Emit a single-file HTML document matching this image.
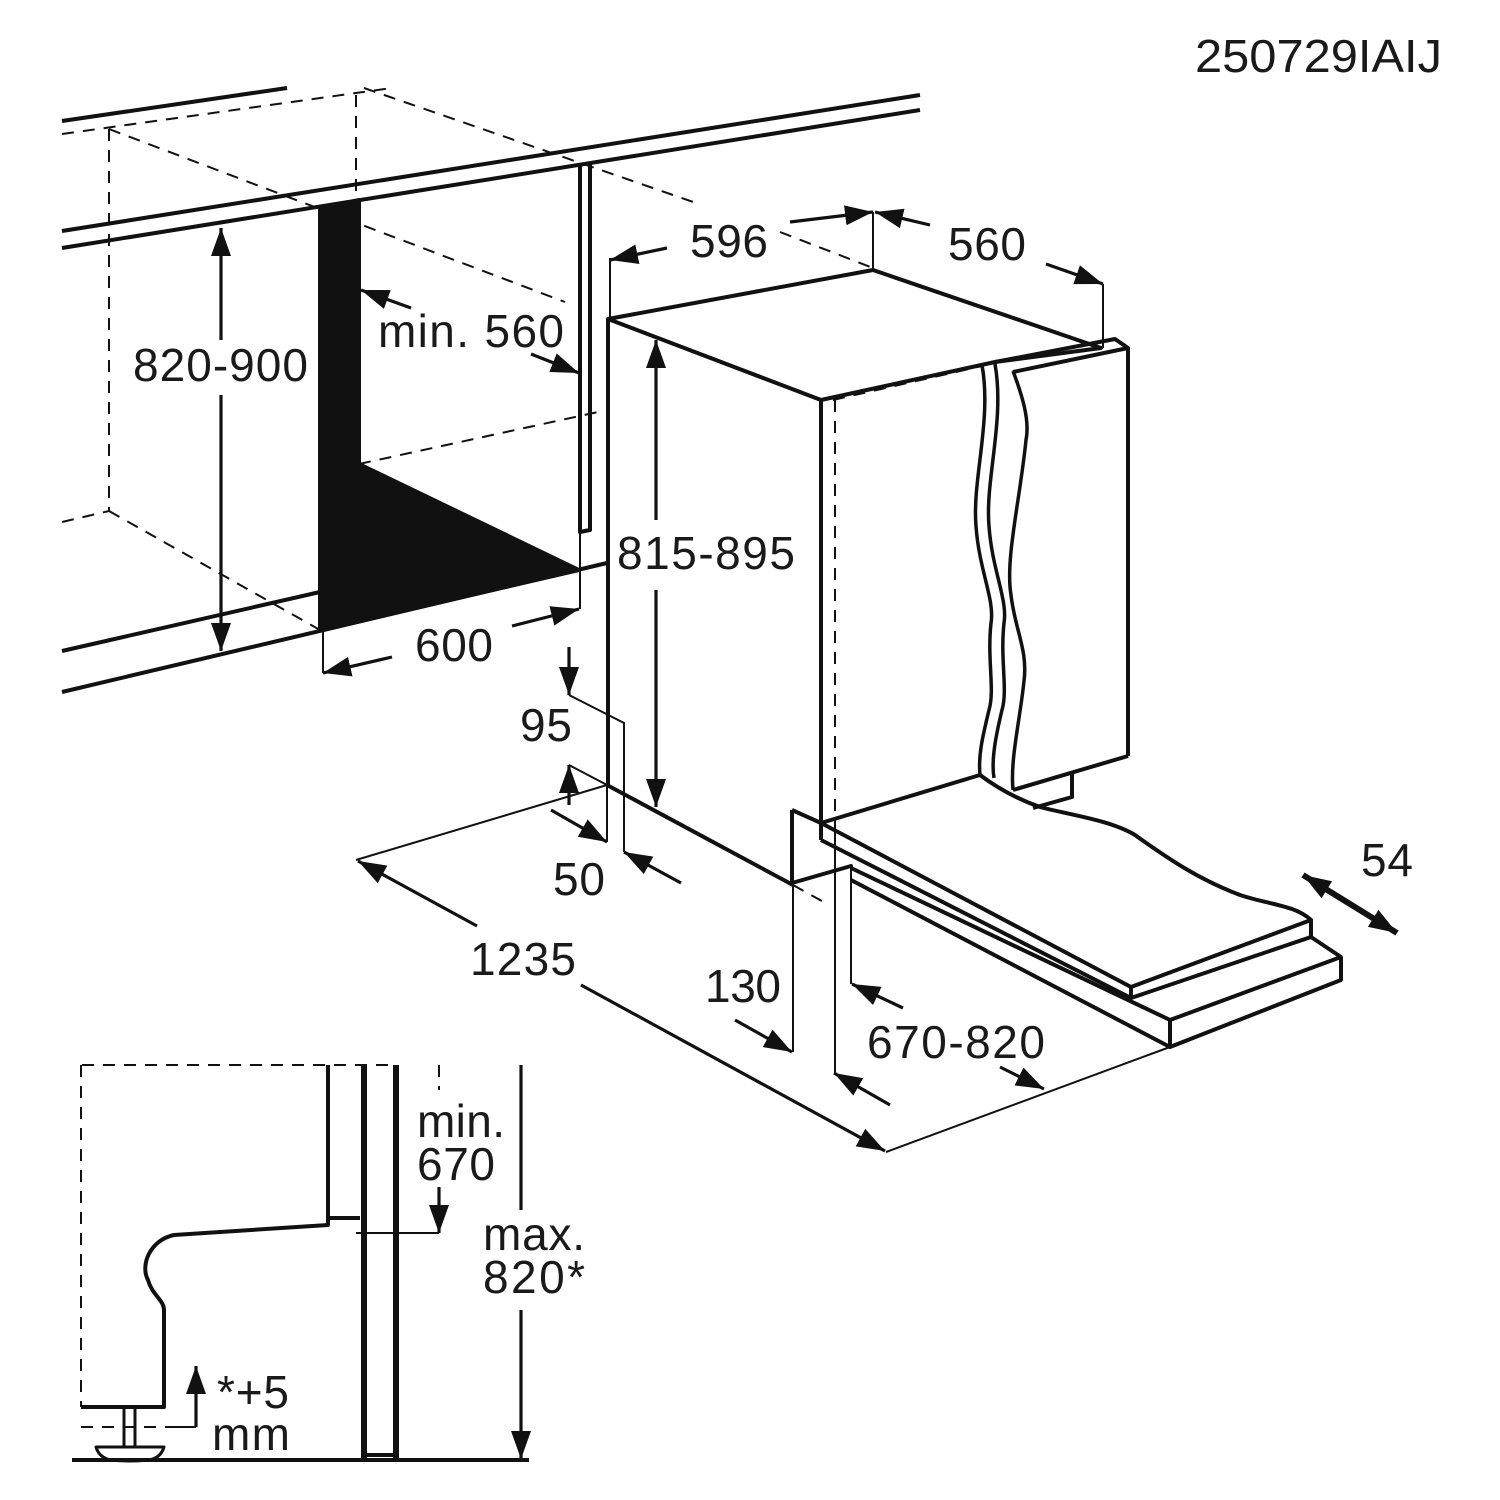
<!DOCTYPE html>
<html><head><meta charset="utf-8"><style>html,body{margin:0;padding:0;background:#fff}svg{display:block}</style></head>
<body>
<svg width="1500" height="1500" viewBox="0 0 1500 1500" xmlns="http://www.w3.org/2000/svg">
<defs>
<marker id="a" markerUnits="userSpaceOnUse" markerWidth="30" markerHeight="20" refX="28" refY="10" orient="auto"><path d="M0,0 L28,10 L0,20 z" fill="#111"/></marker>
<marker id="b" markerUnits="userSpaceOnUse" markerWidth="30" markerHeight="20" refX="0" refY="10" orient="auto"><path d="M28,0 L0,10 L28,20 z" fill="#111"/></marker>
</defs>
<rect width="1500" height="1500" fill="#fff"/>
<g font-family="Liberation Sans, Arial, sans-serif" font-size="46" fill="#1a1a1a">
<text x="1195" y="72" textLength="247" lengthAdjust="spacingAndGlyphs">250729IAIJ</text>
<text x="690" y="257" textLength="78">596</text>
<text x="948" y="260" textLength="78">560</text>
<text x="378" y="347" textLength="186">min. 560</text>
<text x="133" y="381" textLength="175">820-900</text>
<text x="617" y="569" textLength="178">815-895</text>
<text x="415" y="661" textLength="78">600</text>
<text x="520" y="741" textLength="52">95</text>
<text x="553" y="895" textLength="52">50</text>
<text x="470" y="975" textLength="106">1235</text>
<text x="705" y="1002" textLength="76">130</text>
<text x="867" y="1058" textLength="178">670-820</text>
<text x="1361" y="876" textLength="52">54</text>
<text x="417" y="1137" textLength="88">min.</text>
<text x="417" y="1180" textLength="78">670</text>
<text x="483" y="1250" textLength="102">max.</text>
<text x="483" y="1293" textLength="102">820*</text>
<text x="217" y="1408" textLength="72">*+5</text>
<text x="212" y="1450" textLength="78">mm</text>
</g>
<g stroke="#111" fill="none" stroke-width="4" stroke-linejoin="round">
<line x1="62" y1="121" x2="287" y2="88"/>
<line x1="62" y1="231" x2="920" y2="95"/>
<line x1="62" y1="248" x2="920" y2="110"/>
<line x1="62" y1="651" x2="320" y2="592"/>
<line x1="62" y1="692" x2="607" y2="563"/>
<polygon points="320,209 359,200 359,464 579,570 320,630" fill="#111"/>
<polyline points="580,163 580,532 590,530 590,163"/>
</g>
<g stroke="#111" fill="none" stroke-width="2" stroke-dasharray="12,9">
<line x1="62" y1="134" x2="392" y2="88"/>
<line x1="109" y1="129" x2="109" y2="511"/>
<line x1="356" y1="95" x2="356" y2="204"/>
<line x1="109" y1="129" x2="565" y2="302"/>
<line x1="364" y1="88" x2="699" y2="204"/>
<line x1="359" y1="464" x2="598" y2="412"/>
<line x1="109" y1="511" x2="320" y2="630"/>
<line x1="62" y1="522" x2="109" y2="511"/>
<line x1="780" y1="232" x2="873" y2="268"/>
<line x1="833" y1="400" x2="982" y2="366"/>
<line x1="835" y1="400" x2="835" y2="825"/>
<line x1="793" y1="885" x2="829" y2="905"/>
<line x1="82" y1="1065" x2="396" y2="1065"/>
<line x1="81" y1="1065" x2="81" y2="1407"/>
<line x1="81" y1="1427" x2="196" y2="1427"/>
<line x1="439" y1="1065" x2="439" y2="1090"/>
</g>
<g stroke="#111" fill="none" stroke-width="3.2">
<line x1="221" y1="340" x2="221" y2="228" marker-end="url(#a)"/>
<line x1="221" y1="395" x2="221" y2="651" marker-end="url(#a)"/>
<line x1="411" y1="308" x2="361" y2="290" marker-end="url(#a)"/>
<line x1="531" y1="354" x2="579" y2="373" marker-end="url(#a)"/>
<line x1="392" y1="657" x2="323" y2="673" marker-end="url(#a)"/>
<line x1="512" y1="626" x2="579" y2="609" marker-end="url(#a)"/>
<line x1="667" y1="248" x2="610" y2="260" marker-end="url(#a)"/>
<line x1="790" y1="222" x2="873" y2="212" marker-end="url(#a)"/>
<line x1="930" y1="225" x2="875" y2="212" marker-end="url(#a)"/>
<line x1="1046" y1="264" x2="1103" y2="284" marker-end="url(#a)"/>
<line x1="656" y1="520" x2="656" y2="340" marker-end="url(#a)"/>
<line x1="656" y1="590" x2="656" y2="807" marker-end="url(#a)"/>
<line x1="569" y1="647" x2="569" y2="695" marker-end="url(#a)"/>
<line x1="569" y1="805" x2="569" y2="765" marker-end="url(#a)"/>
<line x1="551" y1="810" x2="607" y2="842" marker-end="url(#a)"/>
<line x1="681" y1="883" x2="624" y2="852" marker-end="url(#a)"/>
<line x1="477" y1="926" x2="358" y2="861" marker-end="url(#a)"/>
<line x1="581" y1="985" x2="885" y2="1151" marker-end="url(#a)"/>
<line x1="735" y1="1020" x2="792" y2="1052" marker-end="url(#a)"/>
<line x1="903" y1="1008" x2="852" y2="984" marker-end="url(#a)"/>
<line x1="890" y1="1105" x2="834" y2="1073" marker-end="url(#a)"/>
<line x1="1000" y1="1067" x2="1044" y2="1089" marker-end="url(#a)"/>
<line x1="1303" y1="875" x2="1397" y2="933" marker-start="url(#b)" marker-end="url(#a)" stroke-width="6"/>
<line x1="439" y1="1187" x2="439" y2="1233" marker-end="url(#a)"/>
<line x1="521" y1="1065" x2="521" y2="1210"/>
<line x1="521" y1="1310" x2="521" y2="1459" marker-end="url(#a)"/>
<line x1="196" y1="1427" x2="196" y2="1366" marker-end="url(#a)"/>
</g>
<g stroke="#111" fill="none" stroke-width="2">
<line x1="323" y1="630" x2="323" y2="673"/>
<line x1="580" y1="532" x2="580" y2="609"/>
<line x1="610" y1="258" x2="610" y2="319"/>
<line x1="873" y1="212" x2="873" y2="270"/>
<line x1="1103" y1="284" x2="1103" y2="348"/>
<polyline points="569,695 624,723 624,852"/>
<line x1="607" y1="563" x2="607" y2="842"/>
<polyline points="356,860 607,785"/>
<polyline points="569,765 607,785"/>
<line x1="793" y1="885" x2="793" y2="1052"/>
<line x1="835" y1="825" x2="835" y2="1073"/>
<line x1="851" y1="868" x2="851" y2="984"/>
<line x1="886" y1="1152" x2="1170" y2="1047"/>
<polyline points="356,1233 439,1233"/>
<polyline points="165,1427 196,1427"/>
</g>
<g stroke="#111" fill="none" stroke-width="4" stroke-linejoin="round">
<polyline points="607,785 793,885"/>
<polygon points="608,319 873,270 1101,348 995,362 821,400"/>
<line x1="608" y1="319" x2="608" y2="785"/>
<line x1="821" y1="400" x2="821" y2="840"/>
<polyline points="995,362 1115,339 1128,348 1013,372"/>
<line x1="1128" y1="348" x2="1128" y2="756"/>
<polyline points="1013,790 1128,756"/>
<polyline points="1033,808 1072,797 1072,773"/>
<path d="M982,365 C992,420 972,480 976,526 C979,570 995,600 991,623 C987,660 995,690 989,710 C983,735 978,755 980,775" stroke-width="3.5"/>
<path d="M995,364 C1005,420 985,480 989,526 C992,570 1008,600 1004,623 C1000,660 1008,690 1002,710 C996,735 991,760 994,778" stroke-width="3.5"/>
<path d="M1013,371 C1022,395 1030,420 1026,440 C1020,500 1005,560 1011,595 C1015,630 1028,650 1024,681 C1020,720 1010,760 1013,790" stroke-width="3.5"/>
<polyline points="821,823 980,775"/>
<path d="M980,775 C1000,790 1020,800 1040,807 C1070,815 1110,820 1135,835 C1170,860 1200,880 1240,895 C1270,905 1295,905 1311,920"/>
<polyline points="821,823 1131,987 1311,920 1311,937 1131,998 1131,987"/>
<polyline points="821,840 1131,998"/>
<polyline points="1311,937 1341,957 1341,980 1170,1047 1170,1020 1341,957"/>
<polyline points="851,868 1170,1020"/>
<polyline points="851,880 1170,1047"/>
<polyline points="792,810 821,823"/>
<polyline points="792,810 792,883 851,866 851,868"/>
</g>
<g stroke="#111" fill="none" stroke-width="4" stroke-linejoin="round">
<path d="M328,1065 L328,1225 L174,1235 C150,1240 140,1265 148,1280 C152,1295 164,1300 164,1310 L164,1407 L81,1407"/>
<polyline points="328,1218 360,1218"/>
<line x1="364" y1="1065" x2="364" y2="1460" stroke-width="6"/>
<line x1="396" y1="1065" x2="396" y2="1460" stroke-width="6"/>
<line x1="364" y1="1455" x2="396" y2="1455"/>
<line x1="72" y1="1460" x2="529" y2="1460"/>
<path d="M96,1447 L164,1447 C160,1460 150,1461 130,1461 C110,1461 100,1460 96,1447 Z" stroke-width="3"/>
<line x1="124" y1="1407" x2="124" y2="1447" stroke-width="3"/>
<line x1="135" y1="1407" x2="135" y2="1447" stroke-width="3"/>
</g>
</svg>
</body></html>
